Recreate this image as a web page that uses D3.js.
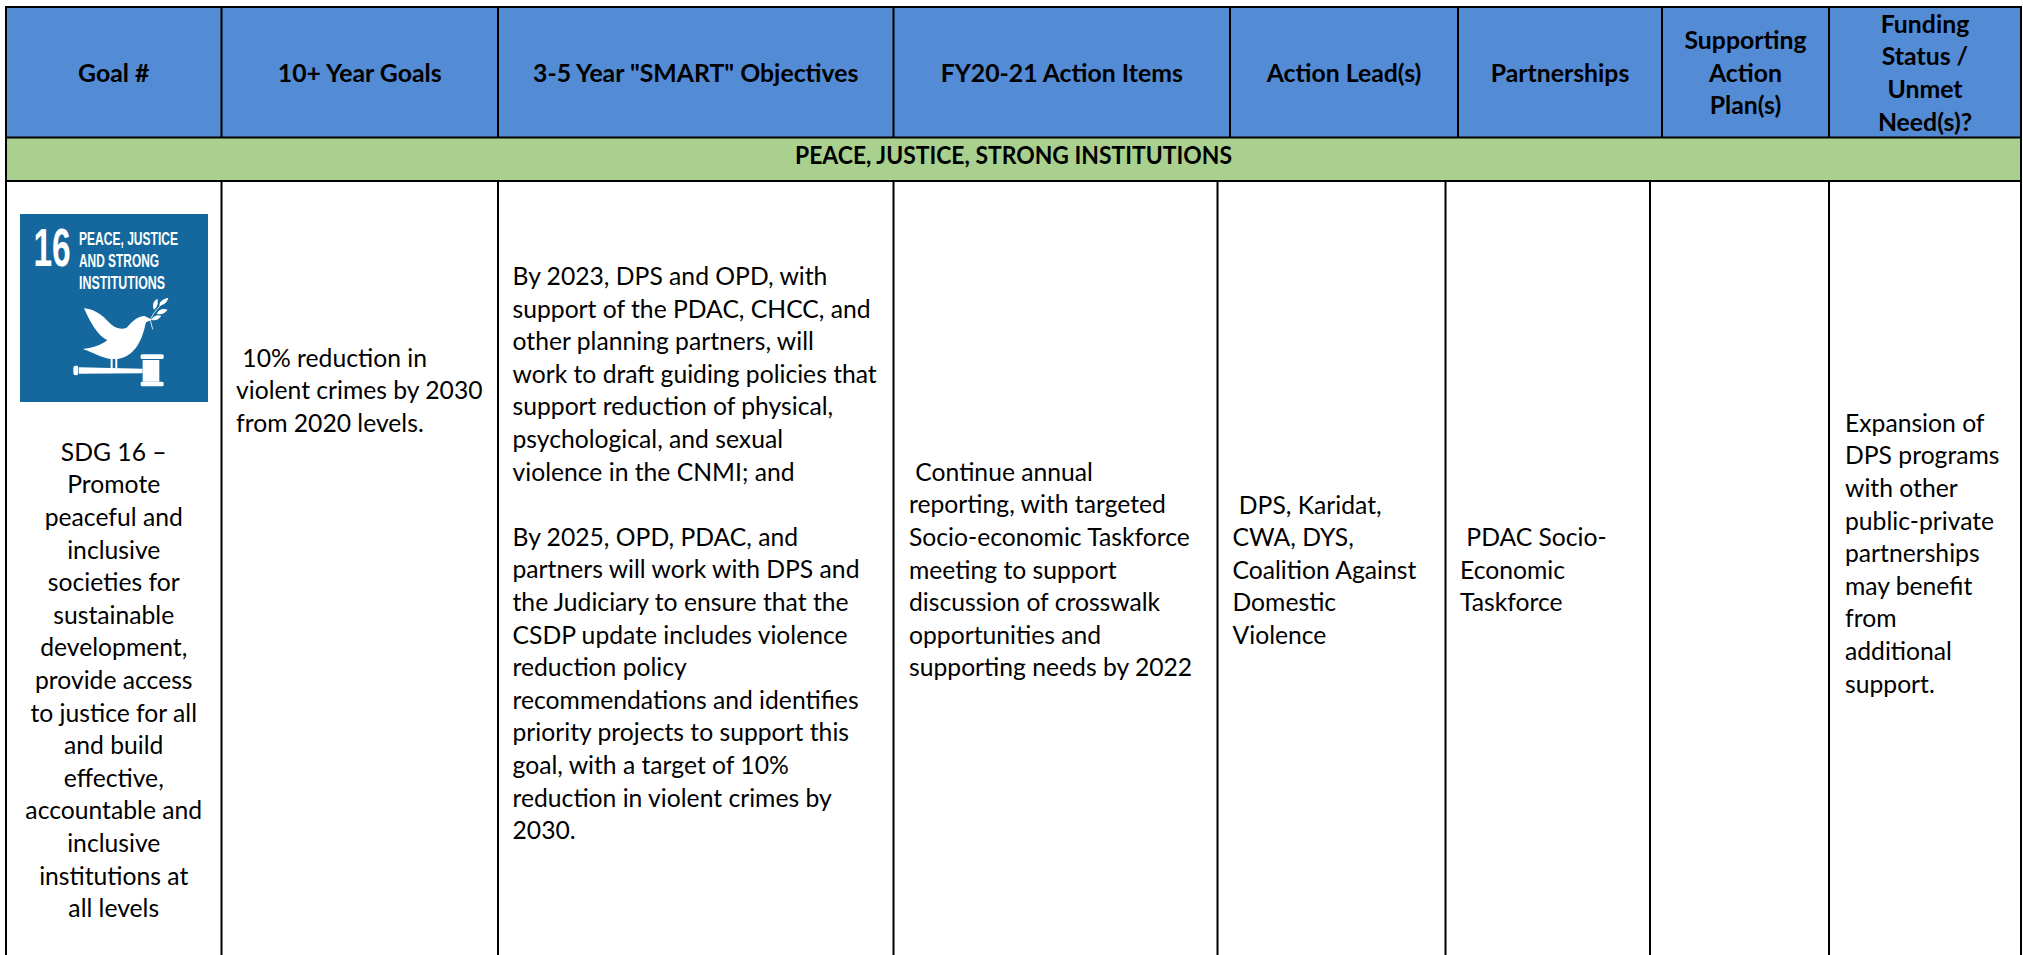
<!DOCTYPE html>
<html>
<head>
<meta charset="utf-8">
<title>Peace, Justice, Strong Institutions</title>
<script src="https://cdn.jsdelivr.net/npm/d3@7"></script>
<style>
    html, body { margin: 0; padding: 0; background: #fff; }
    svg { display: block; }
    text { white-space: pre; font-family: Lato, "Open Sans", sans-serif; fill: #000; }
</style>
</head>
<body>
<div id="table"></div>
<script>
// Table content
const headers = [
    ["Goal #"],
    ["10+ Year Goals"],
    ["3-5 Year \"SMART\" Objectives"],
    ["FY20-21 Action Items"],
    ["Action Lead(s)"],
    ["Partnerships"],
    ["Supporting", "Action", "Plan(s)"],
    ["Funding", "Status /", "Unmet", "Need(s)?"]
];
const banner = "PEACE, JUSTICE, STRONG INSTITUTIONS";
const goalLines = ["SDG 16 –", "Promote", "peaceful and", "inclusive", "societies for", "sustainable", "development,", "provide access", "to justice for all", "and build", "effective,", "accountable and", "inclusive", "institutions at", "all levels"];
const longGoalLines = [" 10% reduction in", "violent crimes by 2030", "from 2020 levels."];
const objectiveLines = ["By 2023, DPS and OPD, with", "support of the PDAC, CHCC, and", "other planning partners, will", "work to draft guiding policies that", "support reduction of physical,", "psychological, and sexual", "violence in the CNMI; and", "", "By 2025, OPD, PDAC, and", "partners will work with DPS and", "the Judiciary to ensure that the", "CSDP update includes violence", "reduction policy", "recommendations and identifies", "priority projects to support this", "goal, with a target of 10%", "reduction in violent crimes by", "2030."];
const actionLines = [" Continue annual", "reporting, with targeted", "Socio-economic Taskforce", "meeting to support", "discussion of crosswalk", "opportunities and", "supporting needs by 2022"];
const leadLines = [" DPS, Karidat,", "CWA, DYS,", "Coalition Against", "Domestic", "Violence"];
const partnerLines = [" PDAC Socio-", "Economic", "Taskforce"];
const planLines = [];
const fundingLines = ["Expansion of", "DPS programs", "with other", "public-private", "partnerships", "may benefit", "from", "additional", "support."];
const logoTitle = ["PEACE, JUSTICE", "AND STRONG", "INSTITUTIONS"];

// Layout
const width = 2023;
const height = 955;
const headerEdges = [6, 221.5, 498, 893.5, 1230, 1458, 1662, 1829, 2021];
const bodyEdges = [6, 221.5, 498, 893.5, 1217.5, 1445.5, 1650, 1829, 2021];
const rowTop = 7, headerBottom = 137.5, bannerBottom = 181;
const lineHeight = 32.6;
const bodyFont = 24.7;
const headFont = 24.8;

const svg = d3.select("#table")
    .append("svg")
    .attr("width", width)
    .attr("height", height)
    .attr("viewBox", [0, 0, width, height]);

// line number -> baseline
const lineY = (first) => d3.scaleLinear().domain([0, 1]).range([first, first + lineHeight]);

// Fills
svg.append("rect")
    .attr("x", headerEdges[0]).attr("y", rowTop)
    .attr("width", headerEdges[8] - headerEdges[0]).attr("height", headerBottom - rowTop)
    .attr("fill", "#538BD5");
svg.append("rect")
    .attr("x", headerEdges[0]).attr("y", headerBottom)
    .attr("width", headerEdges[8] - headerEdges[0]).attr("height", bannerBottom - headerBottom)
    .attr("fill", "#A9D08E");

// Header text
const headerCenter = 81.7;
headers.forEach((lines, i) => {
    const y = lineY(headerCenter - (lines.length - 1) * lineHeight / 2);
    svg.append("g")
        .attr("text-anchor", "middle")
        .attr("font-weight", 700)
        .attr("font-size", headFont)
        .selectAll("text")
        .data(lines)
        .join("text")
        .attr("x", (headerEdges[i] + headerEdges[i + 1]) / 2)
        .attr("y", (d, k) => y(k))
        .text(d => d);
});

// caps run wide in this font, so squeeze the banner to the measured width
svg.append("text")
    .attr("x", (headerEdges[0] + headerEdges[8]) / 2)
    .attr("y", 164)
    .attr("text-anchor", "middle")
    .attr("font-weight", 700)
    .attr("font-size", headFont)
    .attr("textLength", 437)
    .attr("lengthAdjust", "spacingAndGlyphs")
    .text(banner);

// Body text, one block per column
const blocks = [
    { lines: goalLines, col: 0, first: 460.7, center: true },
    { lines: longGoalLines, col: 1, first: 366.7, pad: 14.5 },
    { lines: objectiveLines, col: 2, first: 285, pad: 14.5 },
    { lines: actionLines, col: 3, first: 480.7, pad: 15.5 },
    { lines: leadLines, col: 4, first: 513.6, pad: 15 },
    { lines: partnerLines, col: 5, first: 546.2, pad: 14.5 },
    { lines: planLines, col: 6, first: 300, pad: 15 },
    { lines: fundingLines, col: 7, first: 431.7, pad: 16 }
];

blocks.forEach(b => {
    const y = lineY(b.first);
    svg.append("g")
        .attr("font-size", bodyFont)
        .attr("text-anchor", b.center ? "middle" : "start")
        .selectAll("text")
        .data(b.lines)
        .join("text")
        .attr("x", b.center ? (bodyEdges[b.col] + bodyEdges[b.col + 1]) / 2 : bodyEdges[b.col] + b.pad)
        .attr("y", (d, k) => y(k))
        .text(d => d);
});

// Grid lines
const grid = svg.append("g").attr("stroke", "#000").attr("stroke-width", 2);
grid.selectAll(".hline")
    .data([rowTop, headerBottom, bannerBottom])
    .join("line")
    .attr("x1", headerEdges[0] - 1).attr("x2", headerEdges[8] + 1)
    .attr("y1", d => d).attr("y2", d => d);
grid.selectAll(".head")
    .data(headerEdges)
    .join("line")
    .attr("class", "head")
    .attr("x1", d => d).attr("x2", d => d)
    .attr("y1", rowTop).attr("y2", headerBottom);
grid.selectAll(".side")
    .data([headerEdges[0], headerEdges[8]])
    .join("line")
    .attr("class", "side")
    .attr("x1", d => d).attr("x2", d => d)
    .attr("y1", headerBottom).attr("y2", bannerBottom);
grid.selectAll(".body")
    .data(bodyEdges)
    .join("line")
    .attr("class", "body")
    .attr("x1", d => d).attr("x2", d => d)
    .attr("y1", bannerBottom).attr("y2", height);

// SDG 16 logo
const logo = svg.append("g").attr("transform", "translate(20,214)");
logo.append("rect").attr("width", 188).attr("height", 188).attr("fill", "#14689E");

const narrow = "'Liberation Sans Narrow', 'Liberation Sans', sans-serif";
// scaled instead of textLength so the box stays clear of the title
logo.append("text")
    .attr("transform", "translate(13.5,52) scale(0.62,1)")
    .attr("font-size", 54)
    .attr("font-weight", 700)
    .style("font-family", narrow)
    .style("fill", "#fff")
    .text("16");

const logoWidths = [99, 80, 86];
logo.selectAll(".title")
    .data(logoTitle)
    .join("text")
    .attr("class", "title")
    .attr("x", 59)
    .attr("y", (d, i) => 30.5 + i * 22)
    .attr("font-size", 18.4)
    .attr("font-weight", 700)
    .attr("textLength", (d, i) => logoWidths[i])
    .attr("lengthAdjust", "spacingAndGlyphs")
    .style("font-family", narrow)
    .style("fill", "#fff")
    .text(d => d);

// dove and gavel, traced in 3x pixels
const icon = svg.append("g")
    .attr("transform", "translate(10,205) scale(0.3333)")
    .attr("fill", "#fff");
icon.append("path").attr("d", "M222,310 C250,312 275,328 295,350 C312,368 332,376 350,368 C366,350 384,333 404,333 L426,344 L408,352 C402,375 398,400 378,428 C362,448 345,458 322,462 L300,462 C275,458 248,442 218,432 C245,430 270,422 292,406 C262,392 240,350 222,310 Z");
icon.append("path").attr("d", "M302,458 h6 v32 h-6 Z M316,458 h6 v32 h-6 Z");
icon.append("path").attr("d", "M197,482 a7,7 0 0 1 8,7 v15 a7,7 0 0 1 -8,7 a7,7 0 0 1 -7,-7 v-15 a7,7 0 0 1 7,-7 Z M207,487 L397,491 V505 L207,506 Z M398,465 H448 V530 H398 Z");
icon.append("path").attr("d", "M398,448 H455 a6,6 0 0 1 6,7 a6,6 0 0 1 -6,7 H398 a6,6 0 0 1 -6,-7 a6,6 0 0 1 6,-7 Z M398,530 H455 a6,6 0 0 1 6,7 a6,6 0 0 1 -6,7 H398 a6,6 0 0 1 -6,-7 a6,6 0 0 1 6,-7 Z");
icon.append("path")
    .attr("d", "M428,373 L421,345 C428,325 448,303 470,284")
    .attr("fill", "none").attr("stroke", "#fff").attr("stroke-width", 2.5);
icon.append("path").attr("d", "M432,314 C426,300 430,288 442,281 C446,294 442,306 432,314 Z M448,302 C448,290 458,282 475,278 C472,292 462,300 448,302 Z M440,326 C448,312 460,310 473,314 C464,326 452,330 440,326 Z M424,344 C430,332 442,328 454,332 C446,344 436,348 424,344 Z");
</script>
</body>
</html>
